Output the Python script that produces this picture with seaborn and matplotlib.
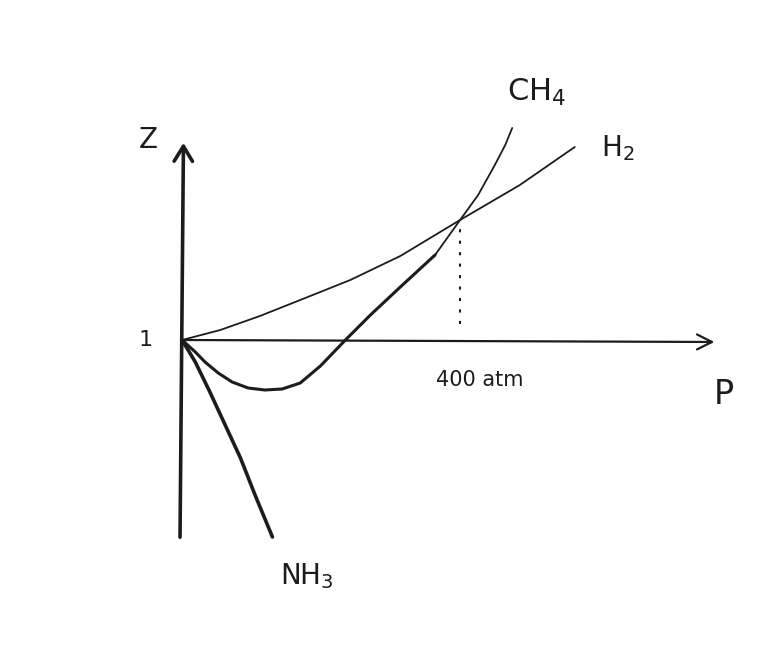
"""Hand-sketch style compressibility factor Z vs pressure P for H2, CH4, NH3."""

import matplotlib

matplotlib.use("Agg")
import matplotlib.pyplot as plt
import pandas as pd
import seaborn as sns

# curve values (P in atm, Z dimensionless)
H2_P = [0, 55, 112, 170, 242, 314, 400, 486, 565]
H2_Z = [1.0, 1.05, 1.12, 1.2, 1.3, 1.42, 1.6, 1.775, 1.965]

CH4_P = [0, 19, 33, 52, 72, 95, 119, 144, 170, 199, 235, 271, 314, 364,
         400, 426, 450, 465, 475]
CH4_Z = [1.0, 0.94, 0.89, 0.835, 0.79, 0.76, 0.75, 0.755, 0.785, 0.87, 1.0,
         1.125, 1.265, 1.425, 1.6, 1.725, 1.875, 1.975, 2.06]

NH3_P = [0, 19, 40, 62, 84, 105, 130]
NH3_Z = [1.0, 0.89, 0.74, 0.575, 0.41, 0.225, 0.015]

DOT_P = 400
DOT_Z = [1.08, 1.6]

# axes limits mapping the figure onto data space
X_MIN, X_MAX = -262, 856
Y_MIN, Y_MAX = -0.655, 2.7

LINE = "#1c1c1c"


def main() -> int:
    sns.set_theme(style="white")
    fig = plt.figure(figsize=(7.77, 6.71), dpi=100)
    ax = fig.add_axes([0, 0, 1, 1])
    ax.set_xlim(X_MIN, X_MAX)
    ax.set_ylim(Y_MIN, Y_MAX)
    ax.axis("off")

    h2 = pd.DataFrame({"P": H2_P, "Z": H2_Z})
    ch4 = pd.DataFrame({"P": CH4_P, "Z": CH4_Z})
    nh3 = pd.DataFrame({"P": NH3_P, "Z": NH3_Z})

    sns.lineplot(data=h2, x="P", y="Z", sort=False, color=LINE, lw=1.3, ax=ax)
    sns.lineplot(data=ch4.iloc[:14], x="P", y="Z", sort=False, color=LINE, lw=2.2, ax=ax)
    sns.lineplot(data=ch4.iloc[13:], x="P", y="Z", sort=False, color=LINE, lw=1.3, ax=ax)
    sns.lineplot(data=nh3, x="P", y="Z", sort=False, color=LINE, lw=2.6, ax=ax)
    ax.plot([DOT_P, DOT_P], DOT_Z, color=LINE, lw=1.5, ls=(0, (1.5, 4)))

    # axes drawn as hand-style arrows
    arrow = dict(arrowstyle="->,head_length=0.9,head_width=0.55", color=LINE, lw=2.6)
    ax.annotate("", xy=(2, 2.0), xytext=(-3, -0.0), arrowprops=arrow)
    arrow_h = dict(arrowstyle="->,head_length=0.9,head_width=0.45", color=LINE, lw=1.6)
    ax.annotate("", xy=(770, 0.99), xytext=(0, 1.0), arrowprops=arrow_h)

    txt = dict(color=LINE, ha="center", va="center")
    ax.text(-48, 2.0, "Z", fontsize=20, **txt)
    ax.text(-52, 1.0, "1", fontsize=16, **txt)
    ax.text(779, 0.73, "P", fontsize=24, **txt)
    ax.text(428, 0.8, "400 atm", fontsize=15, **txt)
    ax.text(510, 2.24, "CH$_4$", fontsize=22, **txt)
    ax.text(627, 1.96, "H$_2$", fontsize=20, **txt)
    ax.text(180, -0.18, "NH$_3$", fontsize=20, **txt)

    fig.savefig("out.png", dpi=100)
    plt.close(fig)
    return 0


if __name__ == "__main__":
    raise SystemExit(main())
